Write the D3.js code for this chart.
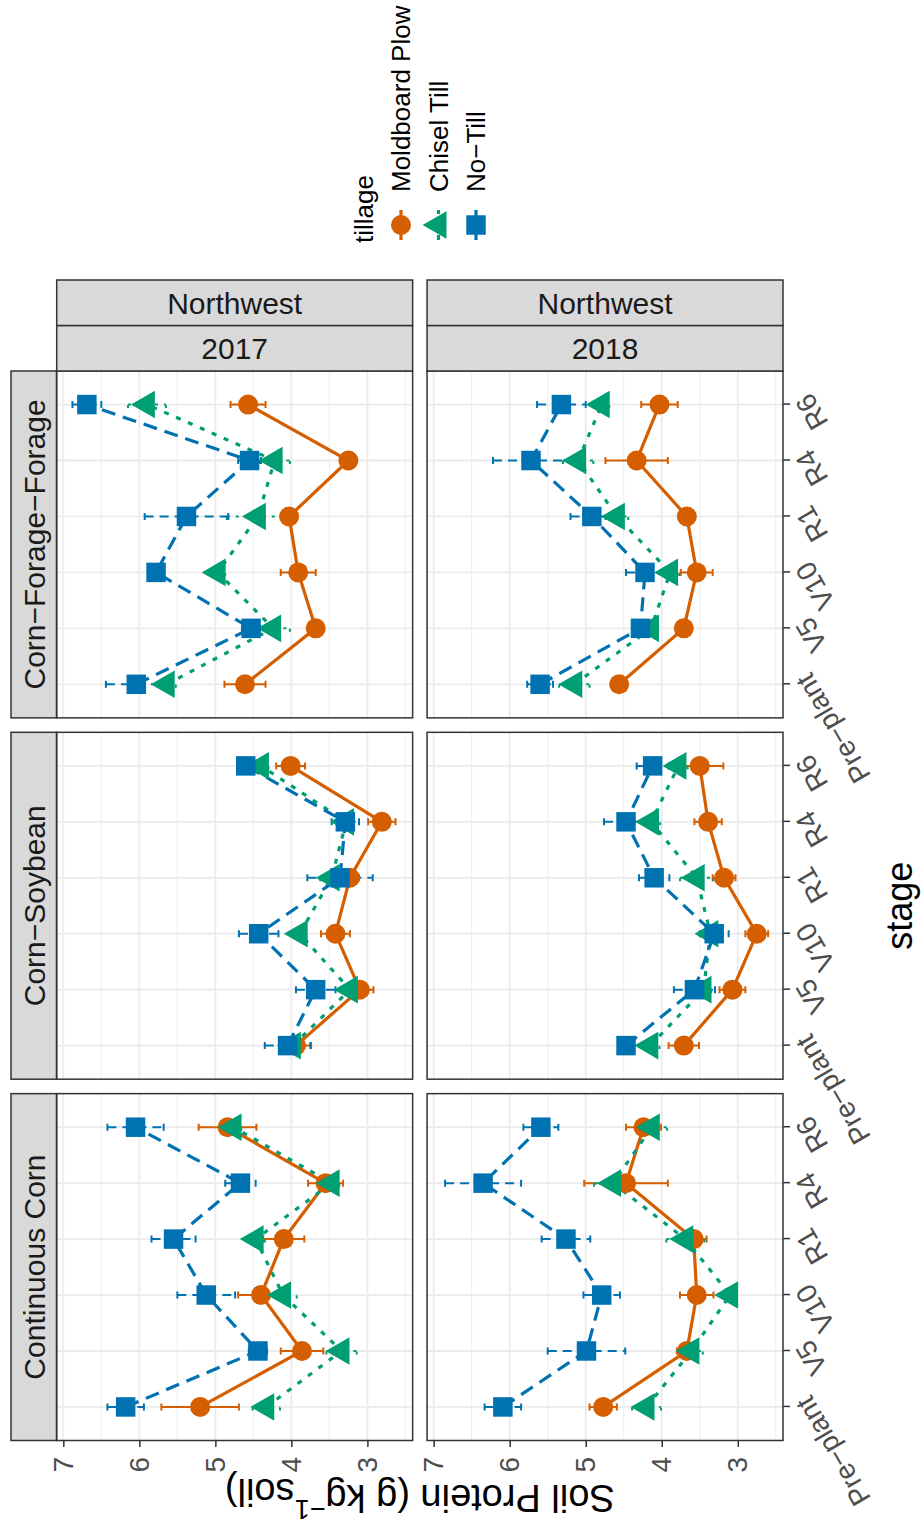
<!DOCTYPE html>
<html>
<head>
<meta charset="utf-8">
<script src="https://cdn.jsdelivr.net/npm/d3@7"></script>
<style>
  body { margin: 0; background: #fff; }
  text { font-family: "Liberation Sans", Arial, Helvetica, sans-serif; }
</style>
</head>
<body>
<svg id="chart" width="922" height="1532"></svg>
<script>
const stages = ["Pre-plant", "V5", "V10", "R1", "R4", "R6"];
const rotations = ["Continuous Corn", "Corn-Soybean", "Corn-Forage-Forage"];
const years = ["2017", "2018"];
const tillages = ["Moldboard Plow", "Chisel Till", "No-Till"];
const region = "Northwest";
const valueTicks = [3, 4, 5, 6, 7];
const minorTicks = [2.5, 3.5, 4.5, 5.5, 6.5];

// rows: Moldboard Plow, Chisel Till, No-Till ; columns follow stages
const meanCC2017 = [[5.20, 3.86, 4.40, 4.10, 3.55, 4.84], [4.33, 3.34, 4.11, 4.47, 3.47, 4.76], [6.18, 4.44, 5.12, 5.55, 4.67, 6.05]];
const seCC2017   = [[0.51, 0.28, 0.30, 0.27, 0.23, 0.38], [0.18, 0.20, 0.18, 0.12, 0.10, 0.10], [0.24, 0.12, 0.38, 0.29, 0.20, 0.37]];
const meanCC2018 = [[4.77, 3.67, 3.54, 3.58, 4.47, 4.24], [4.20, 3.61, 3.10, 3.69, 4.64, 4.13], [6.09, 4.99, 4.79, 5.26, 6.35, 5.59]];
const seCC2018   = [[0.18, 0.13, 0.22, 0.17, 0.55, 0.23], [0.19, 0.15, 0.08, 0.25, 0.25, 0.20], [0.24, 0.51, 0.24, 0.32, 0.50, 0.23]];
const meanCS2017 = [[3.94, 3.10, 3.42, 3.23, 2.81, 4.01], [3.98, 3.23, 3.89, 3.47, 3.28, 4.40], [4.05, 3.68, 4.43, 3.36, 3.29, 4.60]];
const seCS2017   = [[0.20, 0.18, 0.19, 0.12, 0.18, 0.19], [0.15, 0.12, 0.08, 0.15, 0.10, 0.10], [0.30, 0.26, 0.26, 0.43, 0.18, 0.08]];
const meanCS2018 = [[3.71, 3.07, 2.75, 3.18, 3.39, 3.50], [4.15, 3.45, 3.36, 3.54, 4.14, 3.78], [4.47, 3.57, 3.31, 4.10, 4.47, 4.12]];
const seCS2018   = [[0.20, 0.17, 0.15, 0.15, 0.18, 0.31], [0.12, 0.10, 0.12, 0.22, 0.12, 0.12], [0.08, 0.27, 0.19, 0.20, 0.29, 0.21]];
const meanCFF2017 = [[4.61, 3.68, 3.91, 4.03, 3.25, 4.57], [5.64, 4.24, 4.97, 4.44, 4.22, 5.90], [6.04, 4.53, 5.78, 5.38, 4.55, 6.69]];
const seCFF2017   = [[0.27, 0.08, 0.23, 0.08, 0.08, 0.23], [0.12, 0.22, 0.10, 0.41, 0.20, 0.25], [0.40, 0.12, 0.08, 0.55, 0.15, 0.19]];
const meanCFF2018 = [[4.56, 3.71, 3.54, 3.67, 4.33, 4.03], [5.15, 4.14, 3.89, 4.59, 5.10, 4.79], [5.60, 4.28, 4.22, 4.92, 5.72, 5.32]];
const seCFF2018   = [[0.08, 0.08, 0.21, 0.08, 0.41, 0.24], [0.20, 0.08, 0.12, 0.15, 0.20, 0.10], [0.17, 0.08, 0.25, 0.28, 0.50, 0.32]];

const means = {
  "Continuous Corn": { "2017": meanCC2017, "2018": meanCC2018 },
  "Corn-Soybean": { "2017": meanCS2017, "2018": meanCS2018 },
  "Corn-Forage-Forage": { "2017": meanCFF2017, "2018": meanCFF2018 }
};
const ses = {
  "Continuous Corn": { "2017": seCC2017, "2018": seCC2018 },
  "Corn-Soybean": { "2017": seCS2017, "2018": seCS2018 },
  "Corn-Forage-Forage": { "2017": seCFF2017, "2018": seCFF2018 }
};

const colors = ["#D55E00", "#009E73", "#0072B2"];
const dashes = [null, "5,8", "14,8"];
const ebDashes = [null, "3,6", "9,6"];
const symbols = [d3.symbolCircle, d3.symbolTriangle, d3.symbolSquare];
const symSizes = [314, 330, 380];
// R draws the hyphens of the labels as minus signs
const lab = s => s.replace(/-/g, "\u2212");

// the chart is drawn in its upright layout (1532 x 922) and turned a quarter counter-clockwise
const W = 1532;
const svg = d3.select("#chart");
const g = svg.append("g").attr("transform", `translate(0,${W}) rotate(-90)`);

const col = d3.scaleBand().domain(rotations).range([91.5, 1161]).paddingInner(0.04);
const row = d3.scaleBand().domain(years).range([56.7, 783]).paddingInner(0.039);
const bw = col.bandwidth(), bh = row.bandwidth();

const x = d3.scalePoint().domain(stages).range([0, bw]).padding(0.6);
const y = d3.scaleLinear().domain([2.405, 7.087]).range([bh, 0]);
const capW = 7;

rotations.forEach(rot => {
  years.forEach(yr => {
    const p = g.append("g").attr("transform", `translate(${col(rot)},${row(yr)})`);
    p.append("rect").attr("width", bw).attr("height", bh).attr("fill", "#fff");

    p.selectAll(".minor").data(minorTicks).join("line")
      .attr("x1", 0).attr("x2", bw).attr("y1", d => y(d)).attr("y2", d => y(d))
      .attr("stroke", "#EBEBEB").attr("stroke-width", 0.9);
    p.selectAll(".major").data(valueTicks).join("line")
      .attr("x1", 0).attr("x2", bw).attr("y1", d => y(d)).attr("y2", d => y(d))
      .attr("stroke", "#EBEBEB").attr("stroke-width", 1.8);
    p.selectAll(".vgrid").data(stages).join("line")
      .attr("x1", d => x(d)).attr("x2", d => x(d)).attr("y1", 0).attr("y2", bh)
      .attr("stroke", "#EBEBEB").attr("stroke-width", 1.8);

    const m = means[rot][yr], s = ses[rot][yr];
    const line = d3.line().x((d, i) => x(stages[i])).y(d => y(d));

    tillages.forEach((t, k) => {
      p.append("path").attr("d", line(m[k]))
        .attr("fill", "none").attr("stroke", colors[k]).attr("stroke-width", 3.2)
        .attr("stroke-dasharray", dashes[k]);
    });

    tillages.forEach((t, k) => {
      const eb = p.append("g").attr("stroke", colors[k]).attr("stroke-width", 2)
        .attr("fill", "none");
      stages.forEach((st, i) => {
        const lo = y(m[k][i] - s[k][i]), hi = y(m[k][i] + s[k][i]), cx = x(st);
        eb.append("path")
          .attr("d", `M${cx - capW / 2},${hi}H${cx + capW / 2}M${cx},${hi}V${lo}M${cx - capW / 2},${lo}H${cx + capW / 2}`)
          .attr("stroke-dasharray", ebDashes[k]);
      });
    });

    tillages.forEach((t, k) => {
      p.selectAll(".pt" + k).data(m[k]).join("path")
        .attr("transform", (d, i) => `translate(${x(stages[i])},${y(d)})`)
        .attr("d", d3.symbol().type(symbols[k]).size(symSizes[k]))
        .attr("fill", colors[k]);
    });

    p.append("rect").attr("width", bw).attr("height", bh)
      .attr("fill", "none").attr("stroke", "#333333").attr("stroke-width", 1.5);
  });

  // rotation strip on top
  const sg = g.append("g").attr("transform", `translate(${col(rot)},11)`);
  sg.append("rect").attr("width", bw).attr("height", 45.5)
    .attr("fill", "#D9D9D9").attr("stroke", "#333333").attr("stroke-width", 1.5);
  sg.append("text").attr("x", bw / 2).attr("y", 23).attr("dy", "0.36em")
    .attr("text-anchor", "middle").attr("font-size", 30).attr("fill", "#1A1A1A").text(lab(rot));
});

// year / region strips on the right
years.forEach(yr => {
  [[1161, yr], [1206.5, region]].forEach(([sx, label]) => {
    const sg = g.append("g").attr("transform", `translate(${sx},${row(yr)})`);
    sg.append("rect").attr("width", 45.5).attr("height", bh)
      .attr("fill", "#D9D9D9").attr("stroke", "#333333").attr("stroke-width", 1.5);
    sg.append("text").attr("transform", `translate(22.75,${bh / 2}) rotate(90)`)
      .attr("dy", "0.36em").attr("text-anchor", "middle").attr("font-size", 30)
      .attr("fill", "#1A1A1A").text(label);
  });
});

// value axis on the left of each year row
years.forEach(yr => {
  const ax = g.append("g").attr("transform", `translate(${col.range()[0]},${row(yr)})`)
    .call(d3.axisLeft(y).tickValues(valueTicks).tickSize(6.5).tickPadding(10).tickFormat(d3.format("d")));
  ax.select(".domain").remove();
  ax.selectAll("line").attr("stroke", "#333333").attr("stroke-width", 1.5);
  ax.selectAll("text").attr("font-size", 28).attr("fill", "#4D4D4D")
    .attr("font-family", "Liberation Sans, Arial, sans-serif");
});

// stage axis under the bottom row
rotations.forEach(rot => {
  const ax = g.append("g").attr("transform", `translate(${col(rot)},${row.range()[1]})`)
    .call(d3.axisBottom(x).tickSize(7).tickFormat(lab));
  ax.select(".domain").remove();
  ax.selectAll("line").attr("stroke", "#333333").attr("stroke-width", 1.5);
  ax.selectAll("text")
    .attr("y", 0).attr("dy", "0.75em")
    .attr("transform", "translate(2,10) rotate(-30)")
    .attr("text-anchor", "end").attr("font-size", 28).attr("fill", "#4D4D4D")
    .attr("font-family", "Liberation Sans, Arial, sans-serif");
});

// axis titles
g.append("text").attr("x", (col.range()[0] + col.range()[1]) / 2).attr("y", 899).attr("dy", "0.36em")
  .attr("text-anchor", "middle").attr("font-size", 36).attr("fill", "#000").text("stage");

const yt = g.append("text")
  .attr("transform", `translate(33,${(row.range()[0] + row.range()[1]) / 2}) rotate(-90)`)
  .attr("dy", "0.36em").attr("text-anchor", "middle").attr("font-size", 38).attr("fill", "#000");
yt.append("tspan").text("Soil Protein (g kg");
yt.append("tspan").attr("font-size", 27).attr("dy", "-0.55em").text("\u22121");
yt.append("tspan").attr("dy", "0.55em").text("soil)");

// legend
const lg = g.append("g");
lg.append("text").attr("x", 1289).attr("y", 364).attr("dy", "0.36em")
  .attr("font-size", 26).attr("fill", "#000").text("tillage");
const keyY = d3.scalePoint().domain(tillages).range([401, 476]);
tillages.forEach((t, k) => {
  const ky = keyY(t);
  lg.append("line").attr("x1", 1292).attr("x2", 1322).attr("y1", ky).attr("y2", ky)
    .attr("stroke", colors[k]).attr("stroke-width", 3.2).attr("stroke-dasharray", dashes[k]);
  lg.append("path").attr("transform", `translate(1307,${ky})`)
    .attr("d", d3.symbol().type(symbols[k]).size(symSizes[k])).attr("fill", colors[k]);
  lg.append("text").attr("x", 1340).attr("y", ky).attr("dy", "0.36em")
    .attr("font-size", 26).attr("fill", "#000").text(lab(t));
});
</script>
</body>
</html>
